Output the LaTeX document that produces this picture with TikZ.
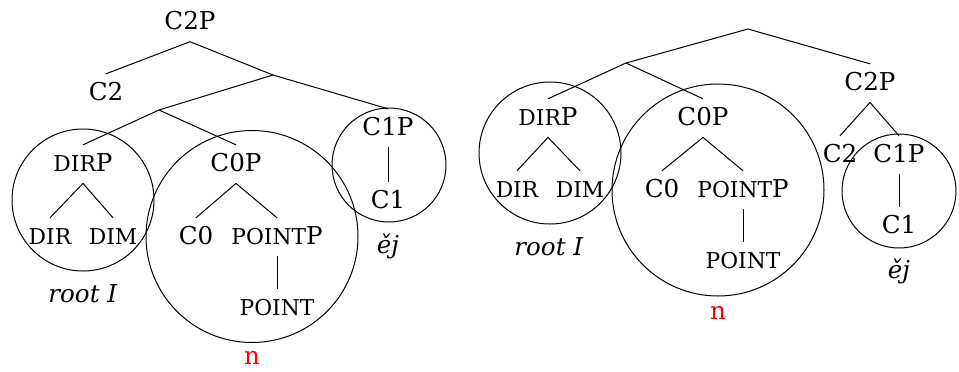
\documentclass[tikz,border=0pt]{standalone}
\usepackage{fontspec}
\setmainfont{DejaVu Serif}
\newcommand\smc[1]{{\fontsize{10.9}{13}\selectfont #1}}
\begin{document}
\begin{tikzpicture}[x=0.5pt,y=-0.5pt]
\tikzset{
  lab/.style={anchor=base, inner xsep=0pt, inner ysep=4pt, text height=8.9pt, text depth=2pt, font=\fontsize{12.3}{15}\selectfont},
  note/.style={anchor=base, inner sep=0pt, font=\fontsize{12.3}{15}\selectfont},
  edge/.style={line width=0.5pt},
  ring/.style={line width=0.5pt}
}
\useasboundingbox (0,0) rectangle (959,371);
% ---------- left tree ----------
\node[lab] (Lc2p) at (190,29.3) {C2P};
\node[lab] (Lc2) at (106,100) {C2};
\coordinate (Lx) at (273,75);
\coordinate (Ly) at (159,110);
\node[lab] (Lc1p) at (388,135) {C1P};
\node[lab] (Lc1) at (388,208) {C1};
\node[lab] (Ldirp) at (83,171) {\smc{DIR}P};
\node[lab] (Lc0p) at (236,171) {C0P};
\node[lab] (Ldir) at (50,244) {\smc{DIR}};
\node[lab] (Ldim) at (113,244) {\smc{DIM}};
\node[lab] (Lc0) at (196,244) {C0};
\node[lab] (Lpointp) at (277,244) {\smc{POINT}P};
\node[lab] (Lpoint) at (277,315) {\smc{POINT}};
\node[note] (Lej) at (388,253) {\textit{ěj}};
\node[note] (Lroot) at (83,302) {\textit{root I}};
\node[note, text=red] (Ln) at (252,364) {n};
\draw[edge] (Lc2p.south) -- (Lc2.north);
\draw[edge] (Lc2p.south) -- (Lx) -- (Lc1p.north);
\draw[edge] (Lx) -- (Ly);
\draw[edge] (Ly) -- (Ldirp.north);
\draw[edge] (Ly) -- (Lc0p.north);
\draw[edge] (Ldirp.south) -- (Ldir.north);
\draw[edge] (Ldirp.south) -- (Ldim.north);
\draw[edge] (Lc0p.south) -- (Lc0.north);
\draw[edge] (Lc0p.south) -- (Lpointp.north);
\draw[edge] (Lpointp.south) -- (Lpoint.north);
\draw[edge] (Lc1p.south) -- (Lc1.north);
\draw[ring] (83,200) circle [radius=35.5pt];
\draw[ring] (252,236.5) circle [radius=53pt];
\draw[ring] (389,165) circle [radius=28.5pt];
% ---------- right tree ----------
\coordinate (Rtop) at (748,29);
\coordinate (Ry) at (626,63);
\node[lab] (Rc2p) at (870,90) {C2P};
\node[lab] (Rc2) at (840,162) {C2};
\node[lab] (Rc1p) at (899,162) {C1P};
\node[lab] (Rc1) at (899,233) {C1};
\node[lab] (Rdirp) at (548,125) {\smc{DIR}P};
\node[lab] (Rc0p) at (703,125) {C0P};
\node[lab] (Rdir) at (517,197) {\smc{DIR}};
\node[lab] (Rdim) at (580,197) {\smc{DIM}};
\node[lab] (Rc0) at (662,197) {C0};
\node[lab] (Rpointp) at (743,197) {\smc{POINT}P};
\node[lab] (Rpoint) at (743,268) {\smc{POINT}};
\node[note] (Rroot) at (549,255) {\textit{root I}};
\node[note] (Rej) at (899,278) {\textit{ěj}};
\node[note, text=red] (Rn) at (718,319) {n};
\draw[edge] (Ry) -- (Rtop) -- (Rc2p.north);
\draw[edge] (Ry) -- (Rdirp.north);
\draw[edge] (Ry) -- (Rc0p.north);
\draw[edge] (Rc2p.south) -- (Rc2.north);
\draw[edge] (Rc2p.south) -- (Rc1p.north);
\draw[edge] (Rc1p.south) -- (Rc1.north);
\draw[edge] (Rdirp.south) -- (Rdir.north);
\draw[edge] (Rdirp.south) -- (Rdim.north);
\draw[edge] (Rc0p.south) -- (Rc0.north);
\draw[edge] (Rc0p.south) -- (Rpointp.north);
\draw[edge] (Rpointp.south) -- (Rpoint.north);
\draw[ring] (550,153) circle [radius=35.5pt];
\draw[ring] (718,190) circle [radius=53pt];
\draw[ring] (899,191) circle [radius=28.5pt];
\end{tikzpicture}
\end{document}
